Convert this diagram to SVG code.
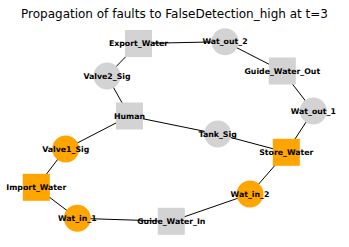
<svg xmlns="http://www.w3.org/2000/svg" width="349" height="247" viewBox="0 0 349 247">
  <style>
    .edge { stroke: #000; stroke-width: 1; fill: none; }
    .grey { fill: #d3d3d3; }
    .hot { fill: #ffa500; }
    .lbl { font-family: "DejaVu Sans", sans-serif; font-weight: bold; font-size: 7.8px; text-anchor: middle; dominant-baseline: central; fill: #000; }
    .title { font-family: "DejaVu Sans", sans-serif; font-size: 12px; text-anchor: middle; fill: #000; }
  </style>
  <rect width="349" height="247" fill="#fff"/>
  <text class="title" x="174.5" y="17.5">Propagation of faults to FalseDetection_high at t=3</text>

  <g id="edges">
    <line class="edge" x1="138.5" y1="43.5" x2="225" y2="41.7"/>
    <line class="edge" x1="138.5" y1="43.5" x2="107" y2="76"/>
    <line class="edge" x1="107" y1="76" x2="129.5" y2="116"/>
    <line class="edge" x1="129.5" y1="116" x2="65.7" y2="149"/>
    <line class="edge" x1="129.5" y1="116" x2="217.7" y2="134"/>
    <line class="edge" x1="217.7" y1="134" x2="286.3" y2="152.3"/>
    <line class="edge" x1="225" y1="41.7" x2="282.3" y2="71"/>
    <line class="edge" x1="282.3" y1="71" x2="313.3" y2="111"/>
    <line class="edge" x1="313.3" y1="111" x2="286.3" y2="152.3"/>
    <line class="edge" x1="286.3" y1="152.3" x2="250" y2="194"/>
    <line class="edge" x1="250" y1="194" x2="171.3" y2="221.3"/>
    <line class="edge" x1="171.3" y1="221.3" x2="77.3" y2="218.3"/>
    <line class="edge" x1="77.3" y1="218.3" x2="36.3" y2="187.3"/>
    <line class="edge" x1="36.3" y1="187.3" x2="65.7" y2="149"/>
  </g>

  <g id="Export_Water"><rect class="grey" x="125" y="30" width="27" height="27"/><text class="lbl" x="138.5" y="43.5">Export_Water</text></g>
  <g id="Wat_out_2"><circle class="grey" cx="225" cy="41.7" r="13.5"/><text class="lbl" x="225" y="41.7">Wat_out_2</text></g>
  <g id="Valve2_Sig"><circle class="grey" cx="107" cy="76" r="13.5"/><text class="lbl" x="107" y="76">Valve2_Sig</text></g>
  <g id="Human"><rect class="grey" x="116" y="102.5" width="27" height="27"/><text class="lbl" x="129.5" y="116">Human</text></g>
  <g id="Guide_Water_Out"><rect class="grey" x="268.8" y="57.5" width="27" height="27"/><text class="lbl" x="282.3" y="71">Guide_Water_Out</text></g>
  <g id="Wat_out_1"><circle class="grey" cx="313.3" cy="111" r="13.5"/><text class="lbl" x="313.3" y="111">Wat_out_1</text></g>
  <g id="Tank_Sig"><circle class="grey" cx="217.7" cy="134" r="13.5"/><text class="lbl" x="217.7" y="134">Tank_Sig</text></g>
  <g id="Store_Water"><rect class="hot" x="272.8" y="138.8" width="27" height="27"/><text class="lbl" x="286.3" y="152.3">Store_Water</text></g>
  <g id="Wat_in_2"><circle class="hot" cx="250" cy="194" r="13.5"/><text class="lbl" x="250" y="194">Wat_in_2</text></g>
  <g id="Guide_Water_In"><rect class="grey" x="157.8" y="207.8" width="27" height="27"/><text class="lbl" x="171.3" y="221.3">Guide_Water_In</text></g>
  <g id="Wat_in_1"><circle class="hot" cx="77.3" cy="218.3" r="13.5"/><text class="lbl" x="77.3" y="218.3">Wat_in_1</text></g>
  <g id="Import_Water"><rect class="hot" x="22.8" y="173.8" width="27" height="27"/><text class="lbl" x="36.3" y="187.3">Import_Water</text></g>
  <g id="Valve1_Sig"><circle class="hot" cx="65.7" cy="149" r="13.5"/><text class="lbl" x="65.7" y="149">Valve1_Sig</text></g>
</svg>
